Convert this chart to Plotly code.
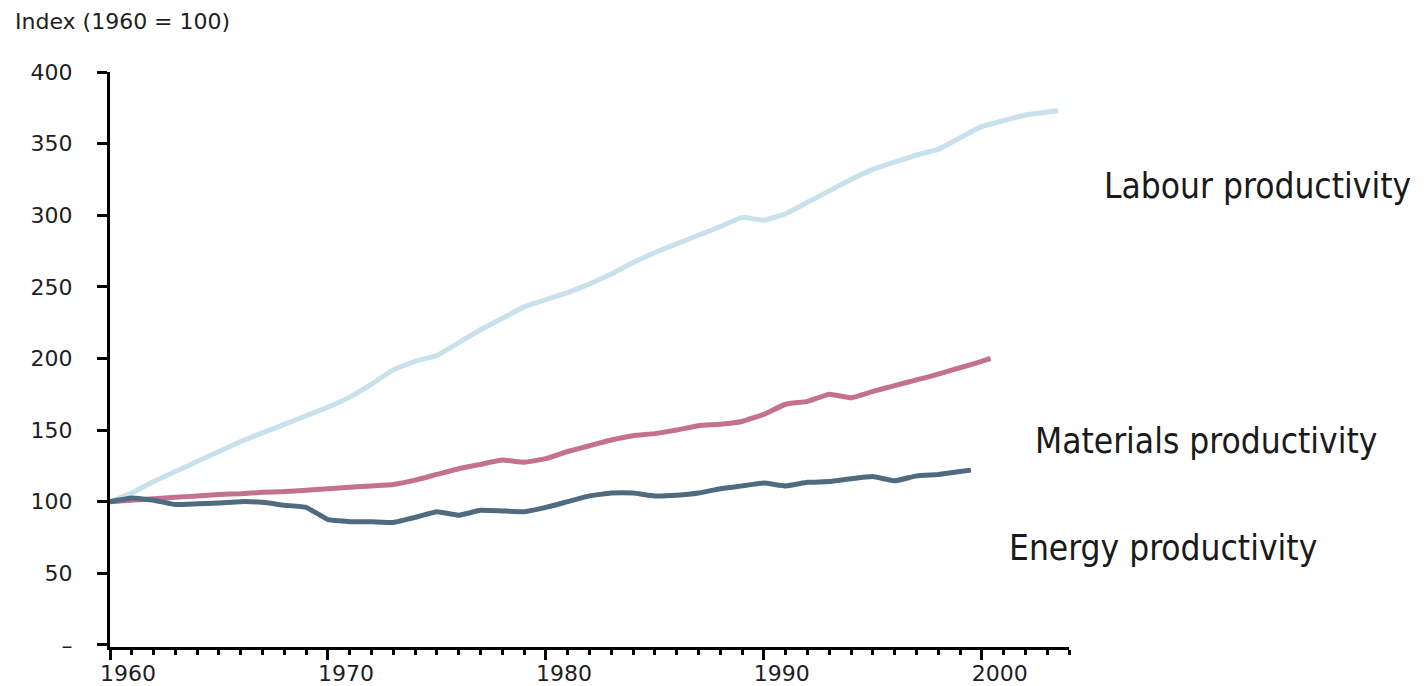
import plotly.graph_objects as go

# ---- data ----
labour_years = [1960, 1961, 1962, 1963, 1964, 1965, 1966, 1967, 1968, 1969, 1970,
                1971, 1972, 1973, 1974, 1975, 1976, 1977, 1978, 1979, 1980,
                1981, 1982, 1983, 1984, 1985, 1986, 1987, 1988, 1989, 1990,
                1991, 1992, 1993, 1994, 1995, 1996, 1997, 1998, 1999, 2000,
                2001, 2002, 2003, 2003.5]
labour_values = [100, 106, 114, 121, 128, 135, 142, 148, 154, 160, 166,
                 173, 182, 192, 198, 202, 211, 220, 228, 236, 241,
                 246, 252, 259, 267, 274, 280, 286, 292, 298.5, 296.5,
                 301, 309, 317, 325, 332, 337, 342, 346, 354, 362,
                 366, 370, 372, 373]

materials_years = [1960, 1961, 1962, 1963, 1964, 1965, 1966, 1967, 1968, 1969, 1970,
                   1971, 1972, 1973, 1974, 1975, 1976, 1977, 1978, 1979, 1980,
                   1981, 1982, 1983, 1984, 1985, 1986, 1987, 1988, 1989, 1990,
                   1991, 1992, 1993, 1994, 1995, 1996, 1997, 1998, 1999, 2000, 2000.4]
materials_values = [100, 101, 102, 103, 104, 105, 105.5, 106.5, 107, 108, 109,
                    110, 111, 112, 115, 119, 123, 126, 129, 127.5, 130,
                    135, 139, 143, 146, 147.5, 150, 153, 154, 156, 161,
                    168, 170, 175, 172.5, 177, 181, 185, 189, 193.5, 198, 200]

energy_years = [1960, 1961, 1962, 1963, 1964, 1965, 1966, 1967, 1968, 1969, 1970,
                1971, 1972, 1973, 1974, 1975, 1976, 1977, 1978, 1979, 1980,
                1981, 1982, 1983, 1984, 1985, 1986, 1987, 1988, 1989, 1990,
                1991, 1992, 1993, 1994, 1995, 1996, 1997, 1998, 1999, 1999.5]
energy_values = [100, 102.5, 101, 98, 98.5, 99, 100, 99.5, 97.5, 96, 87.5,
                 86, 86, 85.5, 89, 93, 90.5, 94, 93.5, 93, 96,
                 100, 104, 106, 106, 104, 104.5, 106, 109, 111, 113,
                 111, 113.5, 114, 116, 117.5, 114.5, 118, 119, 121, 122]

series_names = ["Labour productivity", "Materials productivity", "Energy productivity"]
series_colors = ["#c8e1eb", "#c4708f", "#4f6b80"]

y_tickvals = [0, 50, 100, 150, 200, 250, 300, 350, 400]
y_ticktext = ["\u2013", "50", "100", "150", "200", "250", "300", "350", "400"]
x_tickvals = [1960, 1970, 1980, 1990, 2000]
x_ticktext = ["1960", "1970", "1980", "1990", "2000"]
y_title = "Index (1960 = 100)"

fig = go.Figure()
for yrs, vals, name, col in zip(
        [labour_years, materials_years, energy_years],
        [labour_values, materials_values, energy_values],
        series_names, series_colors):
    fig.add_trace(go.Scatter(x=yrs, y=vals, mode="lines", name=name,
                             line=dict(color=col, width=5, shape="spline", smoothing=0.3),
                             showlegend=False))

tick_font = dict(family="DejaVu Sans, Verdana, sans-serif", size=22, color="#1e1e1e")
label_font = dict(family="DejaVu Sans Condensed, Liberation Sans, sans-serif", size=35, color="#1a1a1a")

# label positions in paper space
label_px = [1.0344, 0.9625, 0.9353]
label_py = [0.8017, 0.3583, 0.1722]
for name, lx, ly in zip(series_names, label_px, label_py):
    fig.add_annotation(x=lx, y=ly, xref="paper", yref="paper", text=name, showarrow=False,
                       xanchor="left", yanchor="middle", font=label_font)

fig.add_annotation(x=-0.101, y=1.087, xref="paper", yref="paper", text=y_title,
                   showarrow=False, xanchor="left", yanchor="middle", font=tick_font)

# page body adds an 8px offset, so the figure is sized/margined to compensate
fig.update_layout(
    width=1420, height=678,
    margin=dict(l=102, r=359, t=64, b=39, autoexpand=False),
    paper_bgcolor="white", plot_bgcolor="white",
)
fig.update_xaxes(range=[1960, 2004], tickvals=x_tickvals, ticktext=x_ticktext, automargin=False,
                 showgrid=False, zeroline=False, showline=True, linecolor="black", linewidth=3,
                 ticks="outside", ticklen=10, tickwidth=3, tickcolor="black",
                 minor=dict(dtick=1, tick0=1960, ticks="outside", ticklen=5, tickwidth=3,
                            tickcolor="black", showgrid=False),
                 tickfont=tick_font, ticklabelshift=18, ticklabelstandoff=-5)
fig.update_yaxes(range=[-1.5, 400], tickvals=y_tickvals, ticktext=y_ticktext, automargin=False,
                 showgrid=False, zeroline=False, showline=True, linecolor="black", linewidth=3,
                 ticks="outside", ticklen=10, tickwidth=3, tickcolor="black",
                 tickfont=tick_font, ticklabelstandoff=20)

fig.write_html("out.html")
